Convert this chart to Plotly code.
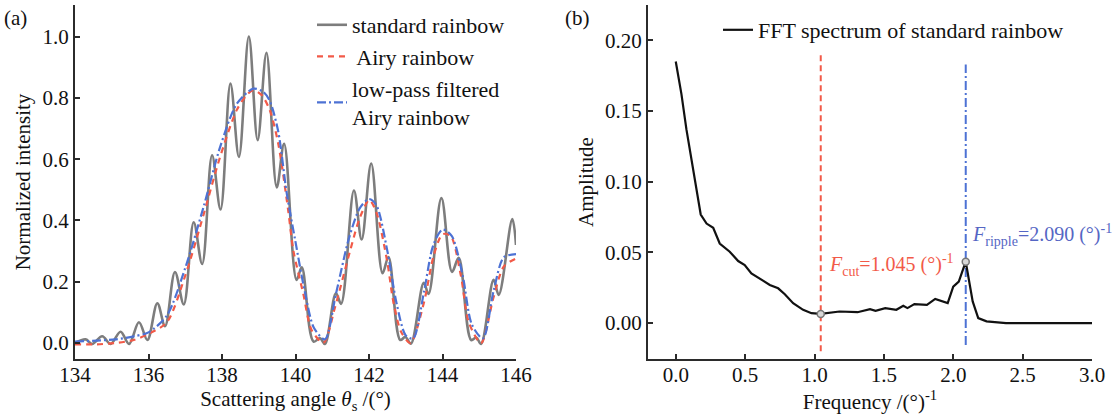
import plotly.graph_objects as go

# ---------------- data: panel (a) ----------------
theta_std = [134.0, 134.29, 134.47, 134.74, 134.97, 135.24, 135.47, 135.74, 135.97, 136.24,
             136.45, 136.72, 136.96, 137.23, 137.46, 137.73, 137.96, 138.23, 138.46, 138.73,
             138.97, 139.21, 139.49, 139.69, 140.03, 140.17, 140.49, 140.67, 140.80, 141.10,
             141.24, 141.59, 141.80, 142.06, 142.37, 142.53, 142.85, 142.99, 143.14, 143.49,
             143.62, 143.97, 144.26, 144.44, 144.78, 144.92, 145.05, 145.39, 145.53, 145.90, 146.0]
I_std = [0.0, 0.012, -0.003, 0.022, -0.003, 0.037, -0.003, 0.068, 0.01, 0.13,
         0.055, 0.232, 0.126, 0.394, 0.258, 0.613, 0.436, 0.847, 0.607, 1.0,
         0.662, 0.947, 0.508, 0.65, 0.206, 0.247, 0.005, 0.016, -0.003, 0.162,
         0.128, 0.498, 0.338, 0.586, 0.228, 0.281, 0.01, 0.02, -0.002, 0.197,
         0.16, 0.473, 0.232, 0.278, 0.01, 0.018, -0.003, 0.206, 0.157, 0.405, 0.32]

theta_airy = [134.0, 134.6, 135.1, 135.6, 136.0, 136.5, 137.0, 137.5, 137.95, 138.4,
              138.67, 138.85, 139.08, 139.3, 139.53, 139.8, 139.94, 140.21, 140.44, 140.76,
              141.08, 141.49, 141.76, 142.01, 142.21, 142.49, 142.67, 142.88, 143.13, 143.49,
              143.76, 144.0, 144.22, 144.5, 144.72, 145.05, 145.39, 145.67, 146.0]
I_airy = [-0.004, -0.004, 0.0, 0.01, 0.03, 0.068, 0.22, 0.42, 0.608, 0.76,
          0.809, 0.825, 0.809, 0.76, 0.651, 0.434, 0.303, 0.162, 0.042, 0.001,
          0.119, 0.303, 0.412, 0.467, 0.423, 0.27, 0.13, 0.035, 0.0, 0.13,
          0.285, 0.355, 0.35, 0.22, 0.066, 0.0, 0.15, 0.25, 0.276]

theta_lp = [134.0, 134.6, 135.1, 135.6, 136.0, 136.5, 137.0, 137.5, 137.95, 138.4,
            138.85, 139.12, 139.3, 139.53, 139.76, 140.0, 140.25, 140.5, 140.8, 141.1,
            141.45, 141.75, 142.0, 142.2, 142.5, 142.75, 143.0, 143.2, 143.5, 143.75,
            144.0, 144.25, 144.55, 144.8, 145.1, 145.39, 145.67, 146.0]
I_lp = [0.005, 0.008, 0.012, 0.022, 0.035, 0.09, 0.245, 0.445, 0.64, 0.78,
        0.83, 0.82, 0.79, 0.69, 0.49, 0.33, 0.17, 0.05, 0.012, 0.16,
        0.34, 0.44, 0.47, 0.45, 0.3, 0.13, 0.025, 0.015, 0.17, 0.32,
        0.37, 0.35, 0.22, 0.06, 0.015, 0.17, 0.28, 0.29]

# ---------------- data: panel (b) ----------------
freq = [0.0, 0.041, 0.077, 0.113, 0.137, 0.161, 0.18, 0.222, 0.27, 0.317,
        0.389, 0.45, 0.497, 0.545, 0.606, 0.678, 0.738, 0.786, 0.846, 0.918,
        0.978, 1.045, 1.18, 1.31, 1.40, 1.44, 1.51, 1.59, 1.64, 1.67,
        1.72, 1.81, 1.87, 1.92, 1.96, 2.00, 2.04, 2.09, 2.14, 2.18,
        2.24, 2.38, 3.0]
amp = [0.185, 0.162, 0.137, 0.116, 0.0998, 0.0857, 0.0768, 0.0704, 0.0674, 0.0563,
       0.0505, 0.0439, 0.0411, 0.0352, 0.0317, 0.027, 0.0246, 0.0204, 0.0141, 0.0094,
       0.007, 0.0065, 0.0082, 0.0077, 0.0099, 0.0087, 0.0106, 0.0094, 0.0122, 0.0106,
       0.0134, 0.0129, 0.0171, 0.0157, 0.0141, 0.0258, 0.0293, 0.0434, 0.0153, 0.0035,
       0.0012, 0.0, 0.0]

F_cut = 1.045
F_ripple = 2.090
mark_freq = [F_cut, F_ripple]
mark_amp = [0.0065, 0.0434]
cut_line_span = [-0.020, 0.190]
ripple_line_span = [-0.0155, 0.183]

x_ticks_a = [134, 136, 138, 140, 142, 144, 146]
y_ticks_a = [0.0, 0.2, 0.4, 0.6, 0.8, 1.0]
x_ticks_b = [0.0, 0.5, 1.0, 1.5, 2.0, 2.5, 3.0]
y_ticks_b = [0.00, 0.05, 0.10, 0.15, 0.20]

# ---------------- style ----------------
FONT = "'Liberation Serif', 'Times New Roman', 'DejaVu Serif', serif"
W, H = 1115, 419
GRAY = "#7d7d7d"
RED = "#F25A48"
BLUE = "#4D72D4"
BLUE_TXT = "#5566C4"
AX = "#2b2b2b"
TXT = "#111111"

fig = go.Figure()

fig.add_trace(go.Scatter(x=theta_std, y=I_std, mode="lines", name="standard rainbow",
                         line=dict(color=GRAY, width=2.6, shape="spline", smoothing=1.0),
                         xaxis="x", yaxis="y", legend="legend"))
fig.add_trace(go.Scatter(x=theta_airy, y=I_airy, mode="lines", name=" Airy rainbow",
                         line=dict(color=RED, width=2.2, dash="6px,5px", shape="spline", smoothing=0.8),
                         xaxis="x", yaxis="y", legend="legend"))
fig.add_trace(go.Scatter(x=theta_lp, y=I_lp, mode="lines", name="low-pass filtered<br>Airy rainbow",
                         line=dict(color=BLUE, width=2.2, dash="9px,3px,2px,3px", shape="spline", smoothing=0.8),
                         xaxis="x", yaxis="y", legend="legend"))

fig.add_trace(go.Scatter(x=freq, y=amp, mode="lines", name="FFT spectrum of standard rainbow",
                         line=dict(color="#111111", width=2.2),
                         xaxis="x2", yaxis="y2", legend="legend2"))
fig.add_trace(go.Scatter(x=mark_freq, y=mark_amp, mode="markers", showlegend=False,
                         marker=dict(size=7, color="#d8d8d8", line=dict(color="#777777", width=1.5)),
                         xaxis="x2", yaxis="y2"))

fig.add_shape(type="line", xref="x2", yref="y2", x0=F_cut, x1=F_cut,
              y0=cut_line_span[0], y1=cut_line_span[1],
              line=dict(color=RED, width=2, dash="6px,4px"), layer="below")
fig.add_shape(type="line", xref="x2", yref="y2", x0=F_ripple, x1=F_ripple,
              y0=ripple_line_span[0], y1=ripple_line_span[1],
              line=dict(color=BLUE, width=2, dash="9px,3px,2px,3px"), layer="below")

axis_common = dict(showline=True, linecolor=AX, linewidth=2, ticks="inside", ticklen=5,
                   tickwidth=1.5, tickcolor=AX, showgrid=False, zeroline=False,
                   tickfont=dict(family=FONT, size=21, color=TXT),
                   title_font=dict(family=FONT, size=21, color=TXT), automargin=False)

ydom = [(H - 359) / H, (H - 5) / H]

fig.update_layout(
    width=W, height=H,
    margin=dict(l=0, r=0, t=0, b=0),
    paper_bgcolor="white", plot_bgcolor="white",
    font=dict(family=FONT, size=21, color=TXT),
    xaxis=dict(domain=[75 / W, 516 / W], range=[134, 146], tickvals=x_ticks_a,
               title=dict(text="Scattering angle <i>θ</i><sub>s</sub> /(°)", standoff=0),
               ticklabelstandoff=-4, anchor="y", **axis_common),
    yaxis=dict(domain=ydom, range=[-0.052, 1.103], tickvals=y_ticks_a, tickformat=".1f",
               title=dict(text="Normalized intensity", standoff=6),
               anchor="x", **axis_common),
    xaxis2=dict(domain=[648 / W, 1092 / W], range=[-0.2, 3.0], tickvals=x_ticks_b, tickformat=".1f",
                title=dict(text="Frequency /(°)<sup>-1</sup>", standoff=0),
                ticklabelstandoff=-4, anchor="y2", **axis_common),
    yaxis2=dict(domain=ydom, range=[-0.0254, 0.225], tickvals=y_ticks_b, tickformat=".2f",
                title=dict(text="Amplitude", standoff=6),
                anchor="x2", **axis_common),
    legend=dict(x=312 / W, y=1 - 4 / H, xanchor="left", yanchor="top", bgcolor="rgba(0,0,0,0)",
                font=dict(family=FONT, size=22, color=TXT), tracegroupgap=0),
    legend2=dict(x=718 / W, y=1 - 9 / H, xanchor="left", yanchor="top", bgcolor="rgba(0,0,0,0)",
                 font=dict(family=FONT, size=22, color=TXT)),
    showlegend=True,
)

fig.add_annotation(text="(a)", xref="paper", yref="paper", x=2 / W, y=1 - 18 / H,
                   xanchor="left", yanchor="middle", showarrow=False,
                   font=dict(family=FONT, size=21, color=TXT))
fig.add_annotation(text="(b)", xref="paper", yref="paper", x=563 / W, y=1 - 18 / H,
                   xanchor="left", yanchor="middle", showarrow=False,
                   font=dict(family=FONT, size=21, color=TXT))
fig.add_annotation(text="<i>F</i><sub>cut</sub>=1.045 (°)<sup>-1</sup>", xref="x2", yref="y2",
                   x=1.09, y=0.041, xanchor="left", yanchor="middle", showarrow=False,
                   font=dict(family=FONT, size=20, color=RED))
fig.add_annotation(text="<i>F</i><sub>ripple</sub>=2.090 (°)<sup>-1</sup>", xref="x2", yref="y2",
                   x=2.12, y=0.062, xanchor="left", yanchor="middle", showarrow=False,
                   font=dict(family=FONT, size=20, color=BLUE_TXT))

fig.write_html("out.html")
